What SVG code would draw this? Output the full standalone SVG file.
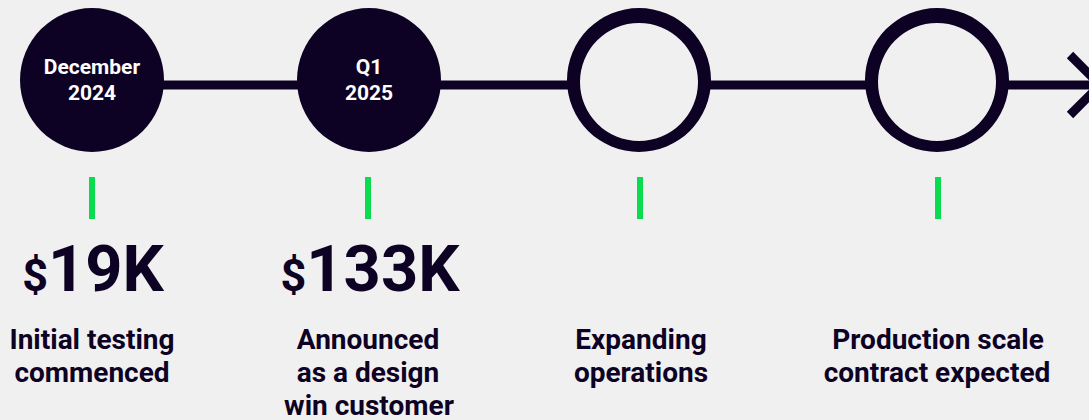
<svg xmlns="http://www.w3.org/2000/svg" width="1089" height="420" viewBox="0 0 1089 420">
<style>
.dark{fill:#0e0224}
.date{font-family:Roboto,"Liberation Sans",sans-serif;font-weight:700;font-size:21px;fill:#ffffff;text-anchor:middle}
.big{font-family:Roboto,"Liberation Sans",sans-serif;font-weight:700;font-size:65px;fill:#0e0224;text-anchor:middle}
.cur{font-size:45px}
.desc{font-family:Roboto,"Liberation Sans",sans-serif;font-weight:700;font-size:28px;fill:#0e0224;text-anchor:middle}
.tick{fill:#0adb4f}
.conn{stroke:#0e0224;stroke-width:9;fill:none}
</style>
<rect width="1089" height="420" fill="#f0f0f0"/>
<g id="connectors">
<line class="conn" x1="160" y1="85" x2="300" y2="85"/>
<line class="conn" x1="438" y1="85" x2="570" y2="85"/>
<line class="conn" x1="708" y1="85" x2="869" y2="85"/>
<line class="conn" x1="1005" y1="85" x2="1098" y2="85"/>
<polyline class="conn" stroke-width="8" points="1070,55 1100,85 1070,115"/>
</g>
<g id="node1">
<circle class="dark" cx="92" cy="80" r="72"/>
<text class="date" x="92" y="74">December</text>
<text class="date" x="92" y="100">2024</text>
<rect class="tick" x="89" y="177" width="6" height="42"/>
<text class="big" x="93" y="291"><tspan class="cur">$</tspan>19K</text>
<text class="desc" x="92" y="349">Initial testing</text>
<text class="desc" x="92" y="382">commenced</text>
</g>
<g id="node2">
<circle class="dark" cx="369" cy="80" r="72"/>
<text class="date" x="369" y="74">Q1</text>
<text class="date" x="369" y="100">2025</text>
<rect class="tick" x="365" y="177" width="6" height="42"/>
<text class="big" x="370" y="291"><tspan class="cur">$</tspan>133K</text>
<text class="desc" x="368" y="349">Announced</text>
<text class="desc" x="368" y="382">as a design</text>
<text class="desc" x="369" y="415">win customer</text>
</g>
<g id="node3">
<path class="dark" fill-rule="evenodd" d="M567,80 a72,72 0 1,0 144,0 a72,72 0 1,0 -144,0 Z M580,82 a59,59 0 1,0 118,0 a59,59 0 1,0 -118,0 Z"/>
<rect class="tick" x="637" y="177" width="6" height="42"/>
<text class="desc" x="641" y="349">Expanding</text>
<text class="desc" x="641" y="382">operations</text>
</g>
<g id="node4">
<path class="dark" fill-rule="evenodd" d="M865,80 a72,72 0 1,0 144,0 a72,72 0 1,0 -144,0 Z M878,82 a59,59 0 1,0 118,0 a59,59 0 1,0 -118,0 Z"/>
<rect class="tick" x="935" y="177" width="6" height="42"/>
<text class="desc" x="938" y="349">Production scale</text>
<text class="desc" x="937" y="382">contract expected</text>
</g>
</svg>
